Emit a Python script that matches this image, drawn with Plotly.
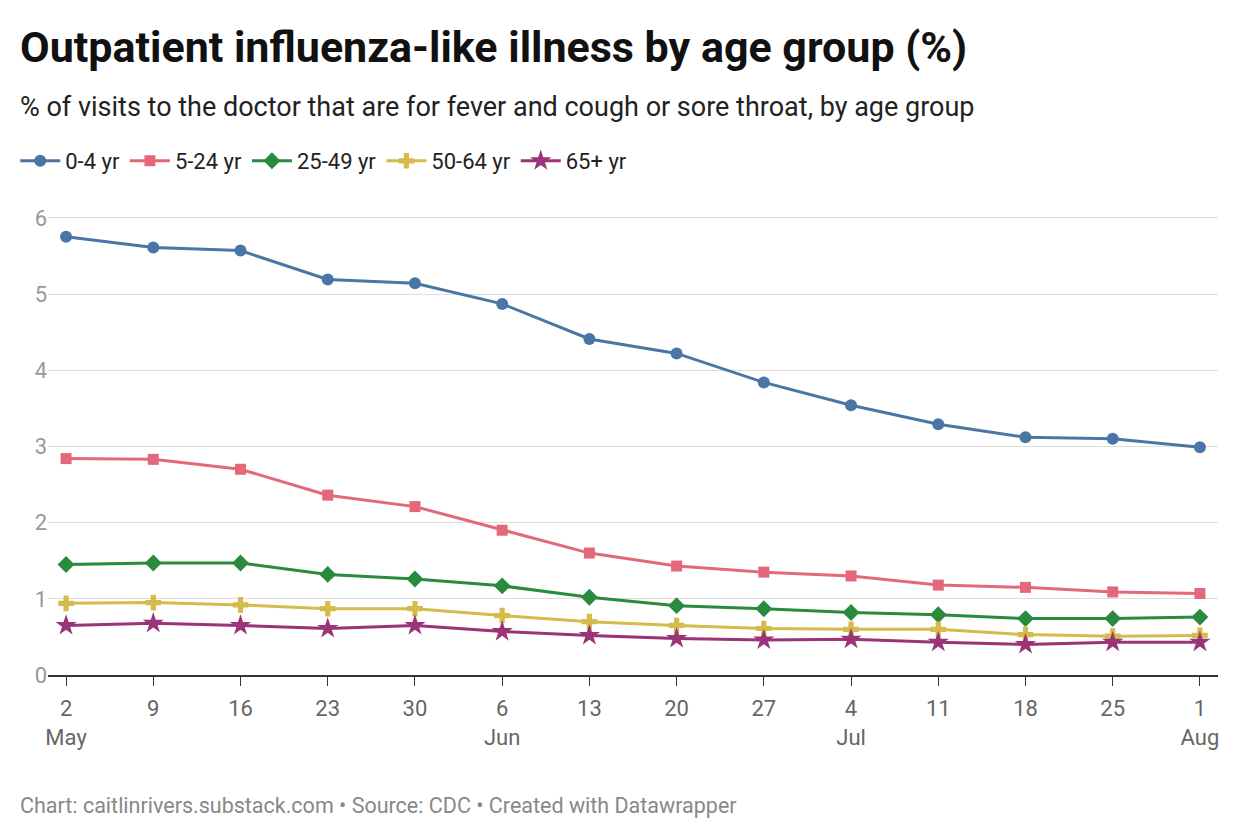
import plotly.graph_objects as go
import pandas as pd

dates = pd.date_range("2021-05-02", periods=14, freq="7D")
tick_text = ["2<br>May", "9", "16", "23", "30", "6<br>Jun", "13", "20", "27",
             "4<br>Jul", "11", "18", "25", "1<br>Aug"]

age_0_4 = [5.75, 5.61, 5.57, 5.19, 5.14, 4.87, 4.41, 4.22, 3.84, 3.54, 3.29, 3.12, 3.10, 2.99]
age_5_24 = [2.84, 2.83, 2.70, 2.36, 2.21, 1.90, 1.60, 1.43, 1.35, 1.30, 1.18, 1.15, 1.09, 1.07]
age_25_49 = [1.45, 1.47, 1.47, 1.32, 1.26, 1.17, 1.02, 0.91, 0.87, 0.82, 0.79, 0.74, 0.74, 0.76]
age_50_64 = [0.94, 0.95, 0.92, 0.87, 0.87, 0.78, 0.70, 0.65, 0.61, 0.60, 0.60, 0.53, 0.51, 0.52]
age_65 = [0.65, 0.68, 0.65, 0.61, 0.65, 0.57, 0.52, 0.48, 0.46, 0.47, 0.43, 0.40, 0.43, 0.43]

series = [
    ("0-4 yr", age_0_4, "#4a76a5", "circle", 12),
    ("5-24 yr", age_5_24, "#e3697a", "square", 11),
    ("25-49 yr", age_25_49, "#2a8a3e", "diamond", 13),
    ("50-64 yr", age_50_64, "#d4bb4a", "cross", 13),
    ("65+ yr", age_65, "#9b3377", "star", 16),
]

fig = go.Figure()
for name, vals, color, sym, size in series:
    fig.add_trace(go.Scatter(
        x=dates, y=vals, name=name, mode="lines+markers",
        line=dict(color=color, width=3),
        marker=dict(symbol=sym, size=size, color=color),
    ))

fig.update_layout(
    width=1240, height=840,
    paper_bgcolor="white", plot_bgcolor="white",
    font=dict(family="Roboto", size=22, color="#333"),
    margin=dict(l=40, r=30, t=206, b=173, autoexpand=False),
    legend=dict(orientation="h", x=-0.028, xanchor="left", y=1.115, yanchor="middle",
                font=dict(size=22, color="#222"), itemwidth=40, tracegroupgap=0),
    showlegend=True,
)
fig.update_xaxes(
    tickvals=dates, ticktext=tick_text, showgrid=False,
    range=[dates[0] - pd.Timedelta(days=1.45), dates[-1] + pd.Timedelta(days=1.45)],
    showline=True, linecolor="#333", linewidth=1.5,
    ticks="outside", ticklen=9, tickcolor="#333", ticklabelstandoff=4,
    tickfont=dict(size=22, color="#666"),
)
fig.update_yaxes(
    range=[0, 6.05], tickvals=[0, 1, 2, 3, 4, 5, 6], gridcolor="#ddd",
    zeroline=False, tickfont=dict(size=22, color="#999"), ticklabelstandoff=0,
)
fig.add_annotation(
    text="<b>Outpatient influenza-like illness by age group (%)</b>",
    xref="paper", yref="paper", x=-0.026, y=1.362, xanchor="left", yanchor="middle",
    showarrow=False, font=dict(size=43, color="#111"),
)
fig.add_annotation(
    text="% of visits to the doctor that are for fever and cough or sore throat, by age group",
    xref="paper", yref="paper", x=-0.026, y=1.232, xanchor="left", yanchor="middle",
    showarrow=False, font=dict(size=27, color="#222"),
)
fig.add_annotation(
    text="Chart: caitlinrivers.substack.com • Source: CDC • Created with Datawrapper",
    xref="paper", yref="paper", x=-0.026, y=-0.282, xanchor="left", yanchor="middle",
    showarrow=False, font=dict(size=21.5, color="#888"),
)
fig.write_html("out.html")
